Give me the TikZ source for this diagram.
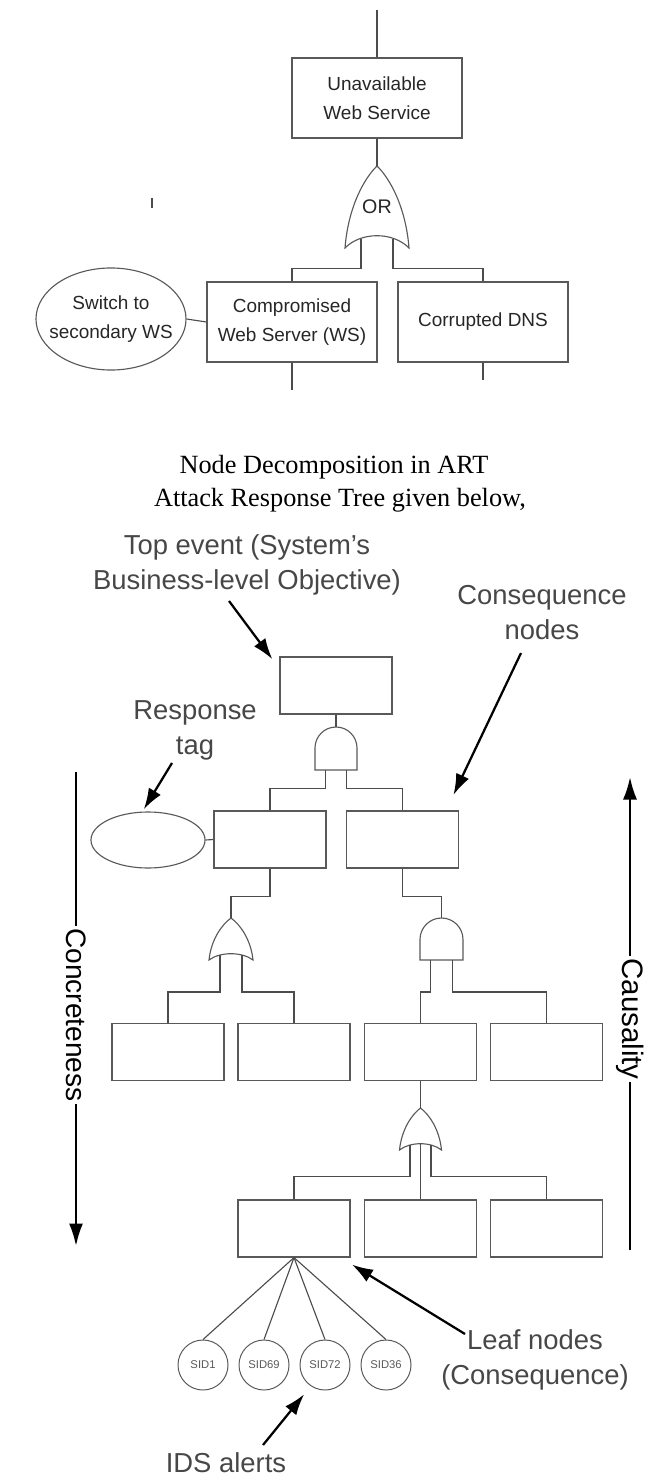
\documentclass[tikz,border=0pt]{standalone}
\usepackage{fontspec}
\setmainfont{Liberation Sans}
\newfontfamily\serifface{Liberation Serif}
\usetikzlibrary{shapes.geometric,arrows.meta,calc}

\tikzset{
  wire/.style={draw=black!70, line width=0.8pt},
  evt/.style={draw=black!65, line width=0.8pt, minimum width=2.8cm, minimum height=1.425cm, inner sep=0pt},
  bigevt/.style={evt, minimum width=4.25cm, minimum height=2cm, align=center, text=black!85,
    font=\fontsize{13.5}{20.6}\selectfont},
  resp/.style={ellipse, draw=black!65, line width=0.8pt, inner sep=0pt},
  alert/.style={circle, draw=black!65, line width=0.7pt, minimum size=1.25cm, inner sep=0pt,
    text=black!65, font=\fontsize{8}{9}\selectfont},
  note/.style={align=center, text=black!72, font=\fontsize{19.5}{24.8}\selectfont},
  callout/.style={line width=1.6pt, -{Latex[length=15pt,width=10pt]}},
  axis/.style={line width=1.8pt},
  axislbl/.style={rotate=-90, inner sep=1.5pt, font=\fontsize{20}{24}\selectfont},
  gate/.style={draw=black!65, line width=0.8pt},
  pics/orgate/.style 2 args={code={
    \draw[gate] ({-#1/2},0) .. controls ({-0.45*#1},{-0.5*#2}) and ({-0.2*#1},{-0.85*#2}) .. (0,{-#2})
      .. controls ({0.2*#1},{-0.85*#2}) and ({0.45*#1},{-0.5*#2}) .. ({#1/2},0)
      .. controls ({0.25*#1},{-0.2*#2}) and ({-0.25*#1},{-0.2*#2}) .. cycle;
    \coordinate (-top) at (0,{-#2});
    \coordinate (-l) at ({-#1/4},{-0.11*#2});
    \coordinate (-c) at (0,{-0.15*#2});
    \coordinate (-r) at ({#1/4},{-0.11*#2});
  }},
  pics/andgate/.style 2 args={code={
    \draw[gate] ({-#1/2},0) -- ({-#1/2},{-#2+#1/2}) arc (180:360:{#1/2}) -- ({#1/2},0) -- cycle;
    \coordinate (-top) at (0,{-#2});
    \coordinate (-l) at ({-#1/4},0);
    \coordinate (-r) at ({#1/4},0);
  }}
}

\begin{document}
\begin{tikzpicture}[x=0.025cm, y=-0.025cm]
  \useasboundingbox (0,0) rectangle (654,1479);

  % fault tree with response
  \node[bigevt] (uws) at (377,98) {Unavailable\\Web Service};
  \coordinate (uwsin) at (377,10);
  \pic (g0) at (377,248) {orgate={64}{82}};
  \node[text=black!85, font=\fontsize{14}{16}\selectfont] (orlbl) at (377,207) {OR};
  \node[bigevt] (cws) at (292,322) {Compromised\\Web Server (WS)};
  \node[bigevt] (dns) at (483,322) {Corrupted DNS};
  \node[resp, minimum width=3.75cm, minimum height=2.55cm] (swws) at (111,319) {};
  \node[align=center, text=black!85, font=\fontsize{13.5}{20.6}\selectfont] (swtxt) at (swws) {Switch to\\secondary WS};
  \coordinate (cwsout) at (292,390);
  \coordinate (dnsout) at (483,380);
  \coordinate (tick) at (152,198);

  \draw[wire] (uwsin) -- (uws.north);
  \draw[wire] (uws.south) -- (g0-top);
  \draw[wire] (g0-l) |- ($(cws.north)+(0,-13)$) -- (cws.north);
  \draw[wire] (g0-r) |- ($(dns.north)+(0,-13)$) -- (dns.north);
  \draw[wire] (swws.east) -- (cws.west);
  \draw[wire] (cws.south) -- (cwsout);
  \draw[wire] (dns.south) -- (dnsout);
  \draw[wire] (tick) -- ++(0,10);

  \node[font=\serifface\fontsize{18.7}{23.4}\selectfont] (ttl1) at (334,467) {Node Decomposition in ART};
  \node[font=\serifface\fontsize{18.7}{23.4}\selectfont] (ttl2) at (340,500) {Attack Response Tree given below,};

  % attack response tree
  \node[evt] (top) at (336,685.5) {};
  \pic (a0) at (336,770) {andgate={42}{43}};
  \node[evt] (l2a) at (270,839.5) {};
  \node[evt] (l2b) at (402.5,839.5) {};
  \node[resp, minimum width=2.85cm, minimum height=1.4cm] (tag) at (148,840) {};
  \pic (o1) at (231,960) {orgate={44}{42}};
  \pic (a1) at (441.5,960) {andgate={43}{42}};
  \foreach \n/\x in {1/168, 2/294, 3/420.5, 4/546.5}
    \node[evt] (l3\n) at (\x,1052) {};
  \pic (o2) at (420.5,1150) {orgate={42}{42}};
  \foreach \n/\x in {1/294, 2/420.5, 3/546.5}
    \node[evt] (l4\n) at (\x,1228.5) {};
  \foreach \n/\x/\sid in {1/203/SID1, 2/264/SID69, 3/325/SID72, 4/386/SID36}
    \node[alert] (sid\n) at (\x,1365) {\sid};

  \draw[wire] (top.south) -- (a0-top);
  \draw[wire] (a0-l) |- ($(l2a.north)+(0,-22)$) -- (l2a.north);
  \draw[wire] (a0-r) |- ($(l2b.north)+(0,-22)$) -- (l2b.north);
  \draw[wire] (tag.east) -- (l2a.west);
  \draw[wire] (l2a.south) -- ++(0,28) -| (o1-top);
  \draw[wire] (l2b.south) -- ++(0,28) -| (a1-top);
  \draw[wire] (o1-l) |- ($(l31.north)+(0,-31)$) -- (l31.north);
  \draw[wire] (o1-r) |- ($(l32.north)+(0,-31)$) -- (l32.north);
  \draw[wire] (a1-l) |- ($(l33.north)+(0,-31)$) -- (l33.north);
  \draw[wire] (a1-r) |- ($(l34.north)+(0,-31)$) -- (l34.north);
  \draw[wire] (l33.south) -- (o2-top);
  \draw[wire] (o2-l) |- ($(l41.north)+(0,-23)$) -- (l41.north);
  \draw[wire] (o2-c) -- (l42.north);
  \draw[wire] (o2-r) |- ($(l43.north)+(0,-23)$) -- (l43.north);
  \foreach \n in {1,...,4}
    \draw[wire] (l41.south) -- (sid\n.north);

  % callouts
  \node[note] (tevlbl) at (247,564.5) {Top event (System's\\Business-level Objective)};
  \coordinate (tevtail) at (229,601);
  \draw[callout] (tevtail) -- ([shift={(-5pt,-2pt)}]top.north west);

  \node[note] (taglbl) at (195,730.5) {Response\\tag};
  \coordinate (tagtail) at (172,763);
  \draw[callout] (tagtail) -- ([shift={(-3pt,1.5pt)}]tag.north);

  \node[note] (conlbl) at (542,612.5) {Consequence\\nodes};
  \coordinate (contail) at (521,653);
  \draw[callout] (contail) -- ([shift={(-4pt,11pt)}]l2b.north east);

  \node[note] (leaflbl) at (535,1359.5) {Leaf nodes\\(Consequence)};
  \coordinate (leaftail) at (465,1334);
  \draw[callout] (leaftail) -- ([shift={(1pt,-5pt)}]l41.south east);

  \node[note, inner sep=1pt] (idslbl) at (226,1463) {IDS alerts};
  \coordinate (idstail) at (263,1445);
  \draw[callout] (idstail) -- ([shift={(-2pt,-8pt)}]sid3.south west);

  % direction bars
  \node[axislbl] (conc) at (76,1015) {Concreteness};
  \coordinate (concin) at (76,772);
  \coordinate (concout) at (76,1246);
  \draw[axis] (concin) -- (conc.west);
  \draw[axis, -{Latex[length=16pt,width=10pt]}] (conc.east) -- (concout);

  \node[axislbl, font=\fontsize{21}{24}\selectfont] (caus) at (630,1019) {Causality};
  \coordinate (causin) at (630,1250);
  \coordinate (causout) at (630,777);
  \draw[axis] (causin) -- (caus.east);
  \draw[axis, -{Latex[length=16pt,width=10pt]}] (caus.west) -- (causout);
\end{tikzpicture}
\end{document}
